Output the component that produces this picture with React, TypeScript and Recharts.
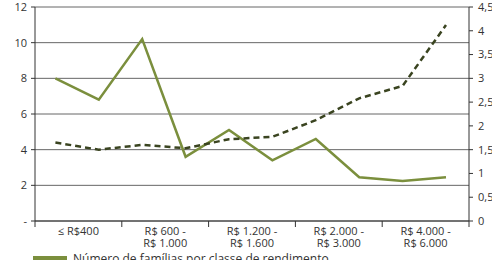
import { FC } from "react";
import {
  LineChart,
  Line,
  XAxis,
  YAxis,
  CartesianGrid,
  Legend,
} from "recharts";

// income classes (10 points, labels shown for every second pair)
const classIndex = [0, 1, 2, 3, 4, 5, 6, 7, 8, 9];
const groupLabels = [
  "≤ R$400",
  "R$ 600 - R$ 1.000",
  "R$ 1.200 - R$ 1.600",
  "R$ 2.000 - R$ 3.000",
  "R$ 4.000 - R$ 6.000",
];
// left axis: number of families
const familias = [8.0, 6.8, 10.2, 3.6, 5.1, 3.4, 4.6, 2.45, 2.25, 2.45];
// right axis: dashed series
const rendimento = [1.65, 1.5, 1.6, 1.53, 1.72, 1.77, 2.12, 2.58, 2.84, 4.12];

const leftTicks = [0, 2, 4, 6, 8, 10, 12];
const rightTicks = [0, 0.5, 1, 1.5, 2, 2.5, 3, 3.5, 4, 4.5];

const SHIFT = 0.03;
const xDomain = [-0.5 + SHIFT, 9.5 + SHIFT];
const labelTicks = groupLabels.map((_, i) => i * 2 + 0.5 + SHIFT);
const boundaryTicks = [0, 1, 2, 3, 4, 5].map((i) => i * 2 - 0.5 + SHIFT);

const GREEN = "#7b8f3d";
const DARK = "#3a4420";
const FONT = "'Open Sans', sans-serif";
const TEXT = "#333";

const data = classIndex.map((idx, i) => ({
  idx,
  familias: familias[i],
  rendimento: rendimento[i],
}));

const XTick: FC<any> = ({ x, y, payload }) => {
  const li = labelTicks.findIndex((t) => Math.abs(t - payload.value) < 1e-6);
  if (li < 0) {
    return <line x1={x} x2={x} y1={y - 2} y2={y + 4} stroke="#333" strokeWidth={1} />;
  }
  const parts = groupLabels[li].split(" - ");
  const lines = parts.length > 1 ? [parts[0] + " -", parts[1]] : parts;
  return (
    <text textAnchor="middle" fontSize={11} fill={TEXT} fontFamily={FONT}>
      {lines.map((l, k) => (
        <tspan key={k} x={x} y={y + 12 + k * 12}>
          {l}
        </tspan>
      ))}
    </text>
  );
};

const LegendBox: FC<any> = () => (
  <div style={{ fontFamily: FONT, fontSize: 12, color: TEXT }}>
    <div style={{ display: "flex", alignItems: "center", height: 16 }}>
      <div style={{ width: 34, height: 5, background: GREEN, marginRight: 6 }} />
      <span>Número de famílias por classe de rendimento</span>
    </div>
  </div>
);

const App: FC = () => {
  return (
    <div style={{ position: "absolute", left: 0, top: 0, width: 492, height: 260, overflow: "hidden", background: "#fff" }}>
      <LineChart
        width={492}
        height={290}
        data={data}
        margin={{ top: 7, right: 0, bottom: 1, left: 0 }}
      >
        <CartesianGrid
          yAxisId="left"
          vertical={false}
          stroke="#666"
          strokeWidth={1}
        />
        <XAxis
          dataKey="idx"
          type="number"
          domain={xDomain}
          ticks={[...boundaryTicks, ...labelTicks].sort((a, b) => a - b)}
          tick={<XTick />}
          tickLine={false}
          tickSize={0}
          height={28}
          interval={0}
          axisLine={{ stroke: "#333" }}
          allowDataOverflow
        />
        <YAxis
          yAxisId="left"
          domain={[0, 12]}
          ticks={leftTicks}
          width={35}
          tickSize={4}
          tickMargin={4}
          tickFormatter={(v: number) => (v === 0 ? "-" : String(v))}
          tick={{ fontSize: 11, fill: TEXT, fontFamily: FONT }}
          axisLine={{ stroke: "#333" }}
          tickLine={{ stroke: "#333" }}
        />
        <YAxis
          yAxisId="right"
          orientation="right"
          domain={[0, 4.5]}
          ticks={rightTicks}
          width={23}
          tickSize={4}
          tickMargin={5}
          tickFormatter={(v: number) => String(v).replace(".", ",")}
          tick={{ fontSize: 11, fill: TEXT, fontFamily: FONT, textAnchor: "start" }}
          axisLine={{ stroke: "#333" }}
          tickLine={{ stroke: "#333" }}
        />
        <Legend
          content={<LegendBox />}
          verticalAlign="bottom"
          height={40}
          wrapperStyle={{ left: 33, top: 250, width: 400 }}
        />
        <Line
          yAxisId="left"
          type="linear"
          dataKey="familias"
          stroke={GREEN}
          strokeWidth={2.5}
          dot={false}
          isAnimationActive={false}
        />
        <Line
          yAxisId="right"
          type="linear"
          dataKey="rendimento"
          stroke={DARK}
          strokeWidth={2.5}
          strokeDasharray="6 4"
          dot={false}
          isAnimationActive={false}
        />
      </LineChart>
    </div>
  );
};

export default App;
